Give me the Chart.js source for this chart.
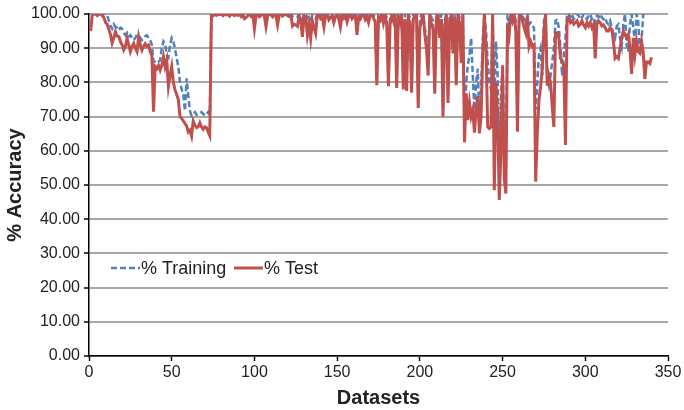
<!DOCTYPE html>
<html>
<head>
<meta charset="utf-8">
<script src="https://cdn.jsdelivr.net/npm/chart.js@4.4.1/dist/chart.umd.min.js"></script>
<style>
  html, body { margin: 0; padding: 0; background: #fff; }
  canvas { display: block; }
</style>
</head>
<body>
<canvas id="myChart" width="684" height="410"></canvas>
<script>
// series labels
var seriesNames = ["% Training", "% Test"];

// x axis tick values, y axis tick values
var xTicks = [0, 50, 100, 150, 200, 250, 300, 350];
var yTicks = [0, 10, 20, 30, 40, 50, 60, 70, 80, 90, 100];

// % Training accuracy, one value per dataset (1..336)
var training = [
  100, 100, 100, 100, 100, 100, 100, 100, 100, 100,
  99.7, 98, 96.5, 95.7, 97, 96.2, 96, 95.2, 96, 95.7,
  94.5, 93.8, 94.5, 93.4, 93.8, 93, 92.4, 93, 94, 93.8,
  93, 92.4, 93, 93.5, 93.8, 93, 92.4, 91, 86.1, 86,
  85.6, 86, 86.5, 90, 92, 91.3, 88, 87.3, 91, 93,
  92, 89.8, 87, 84.6, 80, 78, 76.5, 71.7, 81.2, 76,
  71.7, 70.3, 70.8, 71.3, 70.5, 70.7, 71, 71.3, 70.8, 70.3,
  70.8, 71.3, 70.5, 100, 100, 100, 100, 100, 100, 100,
  100, 99.8, 100, 100, 99.8, 100, 100, 100, 99.8, 100,
  100, 99.8, 100, 99.5, 100, 100, 100, 99.8, 100, 99,
  100, 100, 100, 100, 100, 100, 99, 100, 100, 100,
  100, 100, 100, 99.2, 100, 100, 100, 100, 100, 100,
  100, 100, 99.3, 99.5, 99.4, 99.2, 100, 99.6, 98.5, 100,
  99.8, 98.8, 99.5, 98.5, 99.6, 99, 98.6, 100, 100, 99.6,
  100, 99, 100, 100, 99.5, 100, 100, 99, 100, 100,
  99.6, 98.5, 100, 99.7, 100, 99.2, 100, 100, 99.5, 100,
  100, 98, 100, 99.6, 100, 100, 99.5, 100, 99, 100,
  100, 99.6, 99, 81, 100, 99.5, 100, 99, 100, 99,
  80.5, 99, 100, 99.5, 100, 80, 100, 99, 100, 79.5,
  100, 79, 100, 99, 79, 100, 100, 100, 74, 98.5,
  100, 100, 96, 93, 84, 100, 99, 98, 78.5, 100,
  100, 96, 100, 72, 98, 100, 76, 99.5, 100, 90,
  100, 81, 100, 99, 87.5, 100, 66, 80, 85, 88,
  93, 82, 72, 80, 84, 69, 78, 92, 100, 95,
  86, 80, 78, 100, 75, 92, 82, 58, 75, 85,
  62, 60, 99, 97, 100, 99.5, 100, 98, 70, 100,
  100, 99.5, 98.5, 97, 100, 97, 97.5, 96.5, 96, 72,
  80, 88, 90, 82, 98, 100, 81, 79, 82, 86,
  90, 98, 98.5, 96, 90, 82, 88, 93, 100, 100,
  99, 100, 98.5, 99, 100, 99.5, 98.5, 99, 100, 99,
  98.5, 99.5, 100, 98.5, 99, 97.5, 99.5, 99, 100, 99,
  98.5, 99, 97.5, 97, 98, 96, 94, 93, 96.5, 97,
  93, 90.5, 97, 100, 91, 89, 97, 100, 96, 92,
  100, 98, 88, 92, 100, 100
];

// % Test accuracy, one value per dataset (1..340)
var test = [
  95, 100, 100, 100, 99.5, 100, 100, 99.5, 99, 97.5,
  97, 95.5, 94, 91.5, 93, 94.8, 93.5, 93.4, 92, 91,
  89.5, 90.5, 92.9, 91, 89, 90.5, 91.4, 90, 89, 93.3,
  91, 89.4, 90.5, 91.3, 90.5, 90.9, 89, 87.9, 71.4, 84.6,
  84, 85, 83.6, 85, 87.5, 84.6, 86.5, 78.8, 82, 84.6,
  80, 77.8, 76.5, 74.9, 70, 69.5, 68.7, 68, 67.3, 65.5,
  66, 64.3, 68.7, 67.5, 66.8, 67, 68.2, 67, 66.3, 67,
  66.8, 65.5, 64.4, 100, 99.5, 100, 99.6, 100, 99.8, 100,
  99.5, 100, 99.7, 100, 99.4, 100, 99.8, 99.5, 100, 99.6,
  100, 99.2, 99.5, 98.6, 99, 99.5, 100, 99.3, 99.8, 95.7,
  99.5, 100, 99.2, 99.6, 100, 99.4, 96.3, 99.5, 100, 99.7,
  99.2, 100, 99.5, 96.8, 99.6, 100, 99.4, 99.8, 100, 99.5,
  99.3, 100, 96.5, 97, 96.8, 96.4, 99.5, 98, 93.3, 99.5,
  99, 93.8, 97, 92.9, 98, 96, 94.3, 99.5, 100, 98.7,
  99.2, 96.2, 99.5, 100, 98.3, 99, 99.5, 97.5, 99.2, 100,
  98.5, 96.2, 99.5, 98.8, 99.8, 97.7, 99.5, 100, 98.6, 99.2,
  99.6, 93.9, 99, 98.5, 99.7, 100, 98.4, 99.2, 97.5, 99.6,
  100, 98.8, 97.5, 79.2, 99, 98.2, 100, 97.3, 99.4, 97,
  78.9, 97, 99.7, 98, 100, 78.4, 99, 97.6, 99.5, 77.9,
  98.5, 77.5, 99.2, 96.8, 77, 98.5, 99.6, 100, 72.5, 96,
  98, 100, 94, 90, 82, 100, 97, 95.5, 76.7, 99,
  100, 93, 98.5, 70, 96, 100, 74, 97.5, 100, 88.5,
  99, 79.2, 100, 97, 85.6, 100, 62.5, 76.8, 69, 74,
  70, 72, 65.3, 72, 76, 65.1, 70, 88, 100, 90,
  67, 66.5, 67, 100, 48.5, 80, 70, 45.6, 60, 85,
  52, 47.5, 97, 94, 100, 98, 100, 95, 65.6, 99,
  100, 98, 96, 94.4, 99.5, 90.5, 92, 90.5, 91, 51,
  65, 74.9, 78.8, 84, 95, 100, 79, 82, 80, 73,
  67, 94.3, 94.5, 93, 87, 86.5, 85, 61.7, 98, 99,
  97.5, 98, 97, 97.5, 98, 96.5, 97, 98, 96.8, 96,
  97.5, 96.5, 97.5, 96, 97, 87, 97, 98, 97.5, 96.5,
  96.8, 96, 95, 95, 96, 95.5, 92, 87, 87.5, 87,
  90, 93, 95, 94, 93, 94, 90, 82.5, 93, 88,
  92, 89, 88.5, 92, 89, 81, 86, 86, 85.5, 87.3
];

var blue = '#4f81bd';
var red = '#c0504d';

// legend drawn inside the plot, like the excel original
var insideLegend = {
  id: 'insideLegend',
  afterDatasetsDraw: function(chart) {
    var c = chart.ctx;
    var y = 268;
    c.save();
    c.lineWidth = 2.5;
    c.strokeStyle = blue;
    c.setLineDash([6, 3]);
    c.beginPath(); c.moveTo(111, y); c.lineTo(140, y); c.stroke();
    c.setLineDash([]);
    c.strokeStyle = red;
    c.lineWidth = 3;
    c.beginPath(); c.moveTo(234, y); c.lineTo(263, y); c.stroke();
    c.fillStyle = '#222';
    c.font = '18px "Liberation Sans", Arial, sans-serif';
    c.textBaseline = 'middle';
    c.fillText(seriesNames[0], 141, y + 1);
    c.fillText(seriesNames[1], 264, y + 1);
    c.restore();
  }
};

var ctx = document.getElementById("myChart");

var myChart = new Chart(ctx, {
  type: 'line',
  data: {
    datasets: [
      {
        label: seriesNames[0],
        data: training.map(function(v, i) { return {x: i + 1, y: v}; }),
        borderColor: blue,
        borderWidth: 2.5,
        borderDash: [6, 3],
        pointRadius: 0,
        tension: 0,
        fill: false,
        order: 1
      },
      {
        label: seriesNames[1],
        data: test.map(function(v, i) { return {x: i + 1, y: v}; }),
        borderColor: red,
        borderWidth: 3,
        pointRadius: 0,
        tension: 0,
        fill: false,
        order: 0
      }
    ]
  },
  options: {
    responsive: false,
    animation: false,
    devicePixelRatio: 1,
    layout: { padding: { top: 14, right: 16, left: 0, bottom: 0 } },
    plugins: {
      legend: { display: false },
      tooltip: { enabled: false }
    },
    scales: {
      x: {
        type: 'linear',
        min: xTicks[0],
        max: xTicks[xTicks.length - 1],
        afterBuildTicks: function(scale) {
          scale.ticks = xTicks.map(function(v) { return {value: v}; });
        },
        afterFit: function(scale) { scale.height = 54; },
        ticks: {
          color: '#222',
          font: { family: '"Liberation Sans", Arial, sans-serif', size: 16 },
          padding: 2,
          maxRotation: 0
        },
        grid: { drawOnChartArea: false, tickLength: 5, tickColor: '#000', tickWidth: 1.5 },
        border: { color: '#000', width: 1.5 },
        title: {
          display: true,
          text: 'Datasets',
          color: '#222',
          font: { family: '"Liberation Sans", Arial, sans-serif', size: 20, weight: 'bold' },
          padding: { top: 0, bottom: 0 }
        }
      },
      y: {
        min: yTicks[0],
        max: yTicks[yTicks.length - 1],
        afterBuildTicks: function(scale) {
          scale.ticks = yTicks.map(function(v) { return {value: v}; });
        },
        afterFit: function(scale) { scale.width = 89; },
        ticks: {
          color: '#222',
          font: { family: '"Liberation Sans", Arial, sans-serif', size: 16 },
          padding: 4,
          callback: function(v) { return Number(v).toFixed(2); }
        },
        grid: { color: '#a6a6a6', lineWidth: 2, tickLength: 5, tickColor: '#000', tickWidth: 1.5 },
        border: { color: '#000', width: 1.5 },
        title: {
          display: true,
          text: '% Accuracy',
          color: '#222',
          font: { family: '"Liberation Sans", Arial, sans-serif', size: 20, weight: 'bold' },
          padding: { top: 3, bottom: 0 }
        }
      }
    }
  },
  plugins: [insideLegend]
});
</script>
</body>
</html>
